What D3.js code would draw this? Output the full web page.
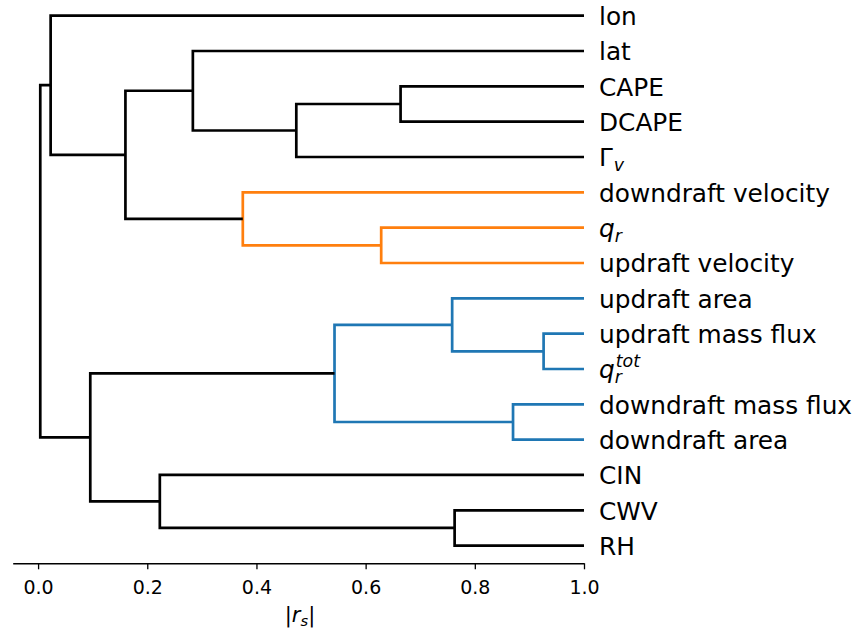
<!DOCTYPE html>
<html>
<head>
<meta charset="utf-8">
<script src="https://cdn.jsdelivr.net/npm/d3@7"></script>
<style>
  html, body { margin: 0; padding: 0; background: #fff; }
  svg { display: block; font-family: "DejaVu Sans", sans-serif; }
</style>
</head>
<body>
<svg id="chart" width="862" height="629"></svg>
<script>
// ---- data ----
// leaves, top to bottom
const leafIds = ["lon", "lat", "CAPE", "DCAPE", "Gv", "dvel", "qr", "uvel",
                 "uarea", "umf", "qrtot", "dmf", "darea", "CIN", "CWV", "RH"];
// merges (agglomeration order): left child, right child, |r_s| at merge, cluster
const mergeLeft   = ["CAPE", "m0",  "lat",  "qr",    "dvel",  "m2",  "lon",  "umf",   "uarea", "dmf",   "m8",    "CWV",  "CIN",  "m10",  "m6"];
const mergeRight  = ["DCAPE","Gv",  "m1",   "uvel",  "m3",    "m4",  "m5",   "qrtot", "m7",    "darea", "m9",    "RH",   "m11",  "m12",  "m13"];
const mergeValue  = [0.664,  0.473, 0.2835, 0.6285,  0.375,   0.160, 0.023,  0.926,   0.7585,  0.870,   0.543,   0.763,  0.223,  0.0956, 0.004];
const mergeCluster= ["k",    "k",   "k",    "C1",    "C1",    "k",   "k",    "C0",    "C0",    "C0",    "C0",    "k",    "k",    "k",    "k"];
const xTicks = [0.0, 0.2, 0.4, 0.6, 0.8, 1.0];
const leafValue = 1.0;

// ---- styles ----
const clusterColor = { k: "#000000", C0: "#1f77b4", C1: "#ff7f0e" };

const svg = d3.select("#chart");
const x = d3.scaleLinear().domain([-0.0465, 1.0]).range([12.7, 584]);
const y = d3.scaleLinear().domain([0, 10 * leafIds.length]).range([-2, 563.3]);

// positions
const pos = {};
leafIds.forEach((id, i) => { pos[id] = { v: leafValue, y: y(10 * i + 5) }; });
const linksG = svg.append("g");
mergeLeft.forEach((a, i) => {
  const b = mergeRight[i];
  const pa = pos[a], pb = pos[b];
  const v = mergeValue[i];
  pos["m" + i] = { v: v, y: (pa.y + pb.y) / 2 };
  const pts = [[x(pa.v), pa.y], [x(v), pa.y], [x(v), pb.y], [x(pb.v), pb.y]];
  linksG.append("path")
    .attr("d", d3.line()(pts))
    .attr("fill", "none")
    .attr("stroke", clusterColor[mergeCluster[i]])
    .attr("stroke-width", 2.7)
    .attr("stroke-linejoin", "miter")
    .attr("stroke-linecap", "butt");
});

// leaf labels
const FS = 24.8;
const labG = svg.append("g");
function addLabel(id, yy) {
  const t = labG.append("text")
    .attr("x", 599).attr("y", yy + 9.5)
    .attr("font-size", FS).attr("fill", "#000");
  const plain = {
    lon: "lon", lat: "lat", CAPE: "CAPE", DCAPE: "DCAPE",
    dvel: "downdraft velocity", uvel: "updraft velocity", uarea: "updraft area",
    umf: "updraft mass flux", dmf: "downdraft mass flux", darea: "downdraft area",
    CIN: "CIN", CWV: "CWV", RH: "RH"
  };
  if (plain[id]) { t.text(plain[id]); return; }
  if (id === "Gv") {
    t.append("tspan").text("Γ");
    t.append("tspan").attr("font-style", "italic").attr("font-size", FS * 0.7)
      .attr("dy", 5).attr("dx", 1).text("v");
  } else if (id === "qr") {
    t.append("tspan").attr("font-style", "italic").text("q");
    t.append("tspan").attr("font-style", "italic").attr("font-size", FS * 0.7)
      .attr("dy", 5).text("r");
  } else if (id === "qrtot") {
    t.append("tspan").attr("font-style", "italic").text("q");
    const r = t.append("tspan").attr("font-style", "italic").attr("font-size", FS * 0.7)
      .attr("dy", 5).text("r");
    const rw = r.node().getComputedTextLength();
    t.append("tspan").attr("font-style", "italic").attr("font-size", FS * 0.7)
      .attr("dx", -rw + 1).attr("dy", -16).text("tot");
  }
}
leafIds.forEach(id => addLabel(id, pos[id].y));

// x axis
const axisG = svg.append("g").attr("transform", "translate(0,563.3)")
  .call(d3.axisBottom(x).tickValues(xTicks).tickFormat(d3.format(".1f"))
    .tickSizeInner(6).tickSizeOuter(0));
axisG.select(".domain").attr("stroke", "#000").attr("stroke-width", 1.4);
axisG.selectAll(".tick line").attr("stroke", "#000").attr("stroke-width", 1.3);
axisG.selectAll(".tick text")
  .attr("y", 31).attr("dy", 0)
  .attr("font-size", 19).attr("font-family", "DejaVu Sans").attr("fill", "#000");

// axis label |r_s|
const LF = 21;
const xl = svg.append("text").attr("x", 300).attr("y", 622)
  .attr("text-anchor", "middle").attr("font-size", LF).attr("fill", "#000");
xl.append("tspan").text("|");
xl.append("tspan").attr("font-style", "italic").text("r");
xl.append("tspan").attr("font-style", "italic").attr("font-size", LF * 0.7).attr("dy", 4).text("s");
xl.append("tspan").attr("dy", -4).text("|");
</script>
</body>
</html>
